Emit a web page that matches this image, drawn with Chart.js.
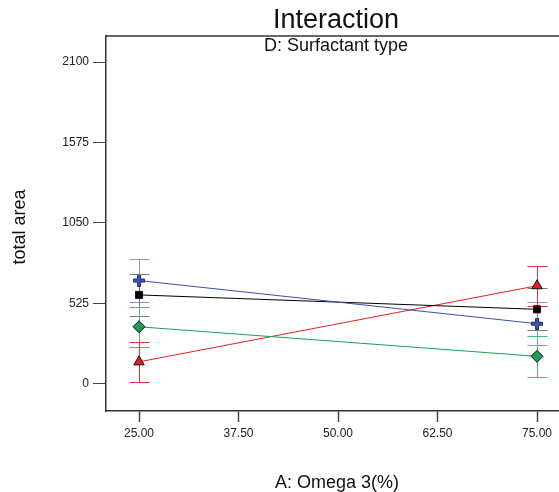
<!DOCTYPE html>
<html>
<head>
<meta charset="utf-8">
<script src="https://cdn.jsdelivr.net/npm/chart.js@4.4.1/dist/chart.umd.min.js"></script>
<style>
  html, body { margin: 0; padding: 0; background: #fff; }
  canvas { display: block; }
</style>
</head>
<body>
<canvas id="chart" width="559" height="492"></canvas>
<script>
// factor A levels and tick values
const omega = [25, 75];
const xTicks = [25, 37.5, 50, 62.5, 75];
const yTicks = [0, 525, 1050, 1575, 2100];

// mean total area per surfactant type, with half-width of the LSD bars
const blueMean = [674, 392];
const blueErr = [143, 142];
const blackMean = [580, 486];
const blackErr = [137, 138];
const greenMean = [372, 179];
const greenErr = [132, 133];
const redMean = [143, 640];
const redErr = [131, 130];

const FONT = "'Liberation Sans', Arial, sans-serif";

// filled plus marker
function plusMarker(fill, stroke) {
  const c = document.createElement("canvas");
  c.width = 12; c.height = 12;
  const g = c.getContext("2d");
  const lo = 0.5, hi = 11.5, a = 4.5, b = 7.5;
  g.beginPath();
  g.moveTo(a, lo); g.lineTo(b, lo); g.lineTo(b, a); g.lineTo(hi, a); g.lineTo(hi, b);
  g.lineTo(b, b); g.lineTo(b, hi); g.lineTo(a, hi); g.lineTo(a, b); g.lineTo(lo, b);
  g.lineTo(lo, a); g.lineTo(a, a); g.closePath();
  g.fillStyle = fill; g.fill();
  g.strokeStyle = stroke; g.lineWidth = 1; g.stroke();
  return c;
}

const series = [
  { mean: blueMean, err: blueErr, line: "#3c4fa8", bar: "#8797d0", style: plusMarker("#3f55b5", "#1c2a66"), fill: "#3f55b5", r: 6 },
  { mean: blackMean, err: blackErr, line: "#000000", bar: "#7a7a7a", style: "rect", fill: "#000000", r: 5 },
  { mean: greenMean, err: greenErr, line: "#1f9d55", bar: "#4cb878", style: "rectRot", fill: "#1f9d55", r: 6 },
  { mean: redMean, err: redErr, line: "#e41e26", bar: "#e63038", style: "triangle", fill: "#e41e26", r: 6 }
];

const errorBars = {
  id: "errorBars",
  beforeDatasetsDraw(chart) {
    const { ctx, scales: { x, y } } = chart;
    ctx.save();
    ctx.lineWidth = 1;
    series.forEach(s => {
      ctx.strokeStyle = s.bar;
      omega.forEach((v, j) => {
        const px = Math.round(x.getPixelForValue(v)) + 0.5;
        const top = Math.round(y.getPixelForValue(s.mean[j] + s.err[j])) + 0.5;
        const bot = Math.round(y.getPixelForValue(s.mean[j] - s.err[j])) + 0.5;
        ctx.beginPath();
        ctx.moveTo(px, top); ctx.lineTo(px, bot);
        ctx.moveTo(px - 10, top); ctx.lineTo(px + 10, top);
        ctx.moveTo(px - 10, bot); ctx.lineTo(px + 10, bot);
        ctx.stroke();
      });
    });
    ctx.restore();
  }
};

const labels = {
  id: "labels",
  afterDraw(chart) {
    const { ctx, chartArea: a } = chart;
    ctx.save();
    // top frame line
    ctx.strokeStyle = "#333";
    ctx.lineWidth = 1.5;
    ctx.beginPath();
    ctx.moveTo(a.left, a.top); ctx.lineTo(a.right, a.top);
    ctx.stroke();

    ctx.fillStyle = "#111";
    ctx.textAlign = "center";
    ctx.textBaseline = "middle";
    ctx.font = "27px " + FONT;
    ctx.fillText("Interaction", 336, 21);
    ctx.font = "18px " + FONT;
    ctx.fillText("D: Surfactant type", 336, 46);
    ctx.fillText("A: Omega 3(%)", 337, 483);
    ctx.translate(20, 227);
    ctx.rotate(-Math.PI / 2);
    ctx.fillText("total area", 0, 0);
    ctx.restore();
  }
};

new Chart(document.getElementById("chart"), {
  type: "line",
  data: {
    datasets: series.map(s => ({
      data: omega.map((v, j) => ({ x: v, y: s.mean[j] })),
      borderColor: s.line,
      borderWidth: 1,
      pointStyle: s.style,
      pointRadius: s.r,
      pointBackgroundColor: s.fill,
      pointBorderColor: "#111",
      pointBorderWidth: 1,
      fill: false,
      tension: 0
    }))
  },
  options: {
    responsive: false,
    animation: false,
    layout: { autoPadding: false, padding: { top: 36, right: 0, left: 0, bottom: 0 } },
    plugins: { legend: { display: false }, tooltip: { enabled: false } },
    scales: {
      x: {
        type: "linear",
        min: 20.85,
        max: 77.76,
        afterBuildTicks: sc => { sc.ticks = xTicks.map(v => ({ value: v })); },
        afterFit: sc => { sc.height = 81; sc.paddingLeft = 0; sc.paddingRight = 0; },
        ticks: { color: "#222", font: { family: FONT, size: 12 }, padding: 4, callback: v => v.toFixed(2) },
        grid: { drawOnChartArea: false, tickLength: 11, color: "#444", tickWidth: 1.5 },
        border: { color: "#333", width: 1.5 }
      },
      y: {
        type: "linear",
        min: -178,
        max: 2271,
        afterBuildTicks: sc => { sc.ticks = yTicks.map(v => ({ value: v })); },
        afterFit: sc => { sc.width = 106; sc.paddingTop = 0; sc.paddingBottom = 0; },
        ticks: { color: "#222", font: { family: FONT, size: 12 }, padding: 4, callback: v => String(v) },
        grid: { drawOnChartArea: false, tickLength: 13, color: "#444", tickWidth: 1 },
        border: { color: "#333", width: 1.5 }
      }
    }
  },
  plugins: [errorBars, labels]
});
</script>
</body>
</html>
